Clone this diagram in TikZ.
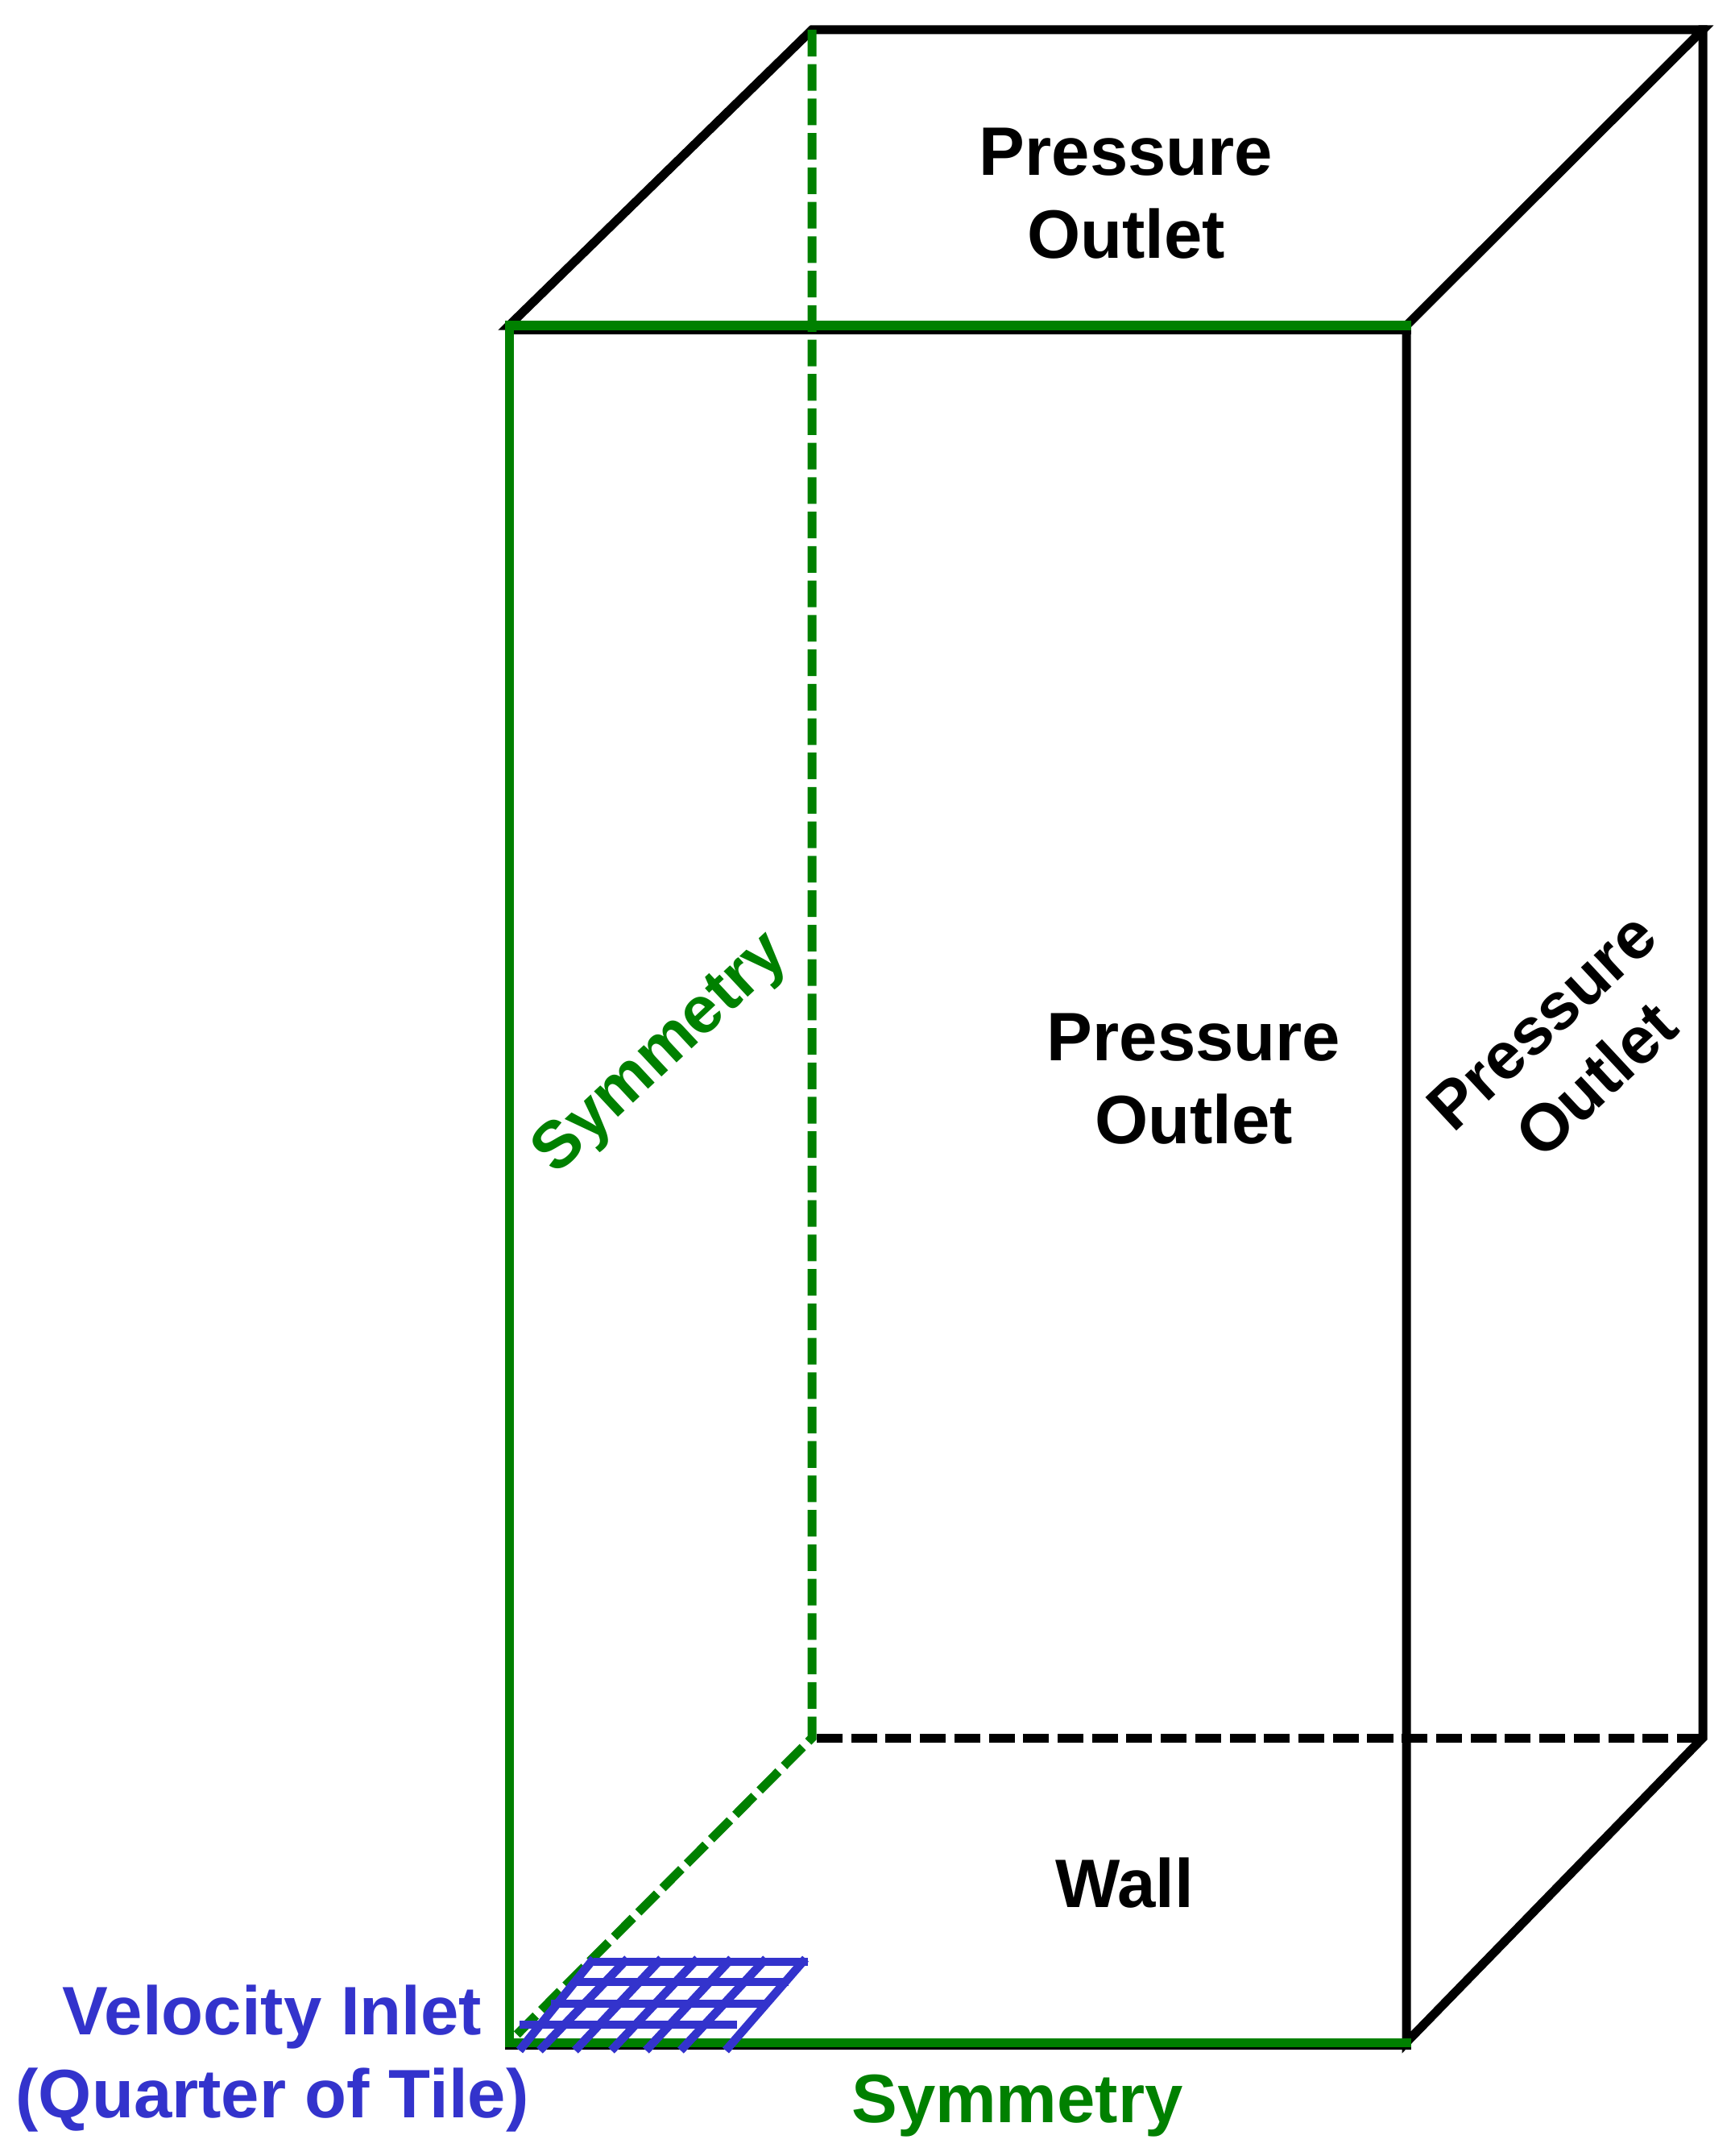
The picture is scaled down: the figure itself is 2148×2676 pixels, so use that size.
\documentclass[tikz,border=0pt]{standalone}
\usepackage{fontspec}
\setsansfont{Liberation Sans}
\usetikzlibrary{calc}

\definecolor{symgreen}{HTML}{008000}
\definecolor{inletblue}{HTML}{3333CC}

\begin{document}
\begin{tikzpicture}[
  x=0.01cm, y=-0.01cm,
  font=\sffamily\bfseries\fontsize{24.2}{29.3}\selectfont,
  edge/.style={draw=black, line width=0.11cm, line cap=rect},
  hidden/.style={draw=black, line width=0.11cm, dash pattern=on 0.32cm off 0.107cm},
  sym/.style={draw=symgreen, line width=0.11cm, line cap=rect},
  symhidden/.style={draw=symgreen, line width=0.11cm, dash pattern=on 0.33cm off 0.097cm},
  mesh/.style={draw=inletblue, line width=0.105cm},
  lbl/.style={align=center, inner sep=0pt},
  tilted/.style={lbl, rotate=43, scale=0.965}
]
\useasboundingbox (0,0) rectangle (2148,2676);

% corners
\coordinate (ftl) at (632,404);
\coordinate (ftr) at (1746,404);
\coordinate (fbl) at (632,2535);
\coordinate (fbr) at (1746,2535);
\coordinate (btl) at (1008,37);
\coordinate (btr) at (2114,37);
\coordinate (bbl) at (1008,2157);
\coordinate (bbr) at (2114,2157);

% black edges
\draw[edge] (ftl) -- (btl) -- (btr) -- (ftr) -- cycle;
\draw[edge] (btr) -- (bbr) -- (fbr) -- (ftr);
\draw[edge] ($(ftl)+(0,5)$) -- ($(ftr)+(0,5)$);
\draw[edge] ($(fbl)+(0,3)$) -- ($(fbr)+(0,3)$);
\draw[hidden] (bbr) -- (bbl);

% green edges
\draw[symhidden] (btl) -- (bbl) -- (fbl);
\draw[sym] (fbr) -- (fbl) -- (ftl) -- (ftr);

% inlet mesh
\foreach \xa/\xb in {737/645,779/670,821/714,866/759,908/802,951/845,1000/901}
  \draw[mesh] (\xa,2431) -- (\xb,2545);
\foreach \xa/\xb/\ya in {737/1003/2435,712/979/2460,684/951/2487,645/915/2513}
  \draw[mesh] (\xa,\ya) -- (\xb,\ya);

% labels
\node[lbl] (topout) at (1398,240) {Pressure\\Outlet};
\node[lbl] (frontout) at (1482,1339) {Pressure\\Outlet};
\node[tilted] (sideout) at (1948,1304) {Pressure\\Outlet};
\node[lbl] (wall) at (1396,2337) {Wall};
\node[tilted, text=symgreen] (symback) at (822,1309) {Symmetry};
\node[lbl, text=symgreen] (symfront) at (1263,2614) {Symmetry};
\node[lbl, text=inletblue] (inlet) at (338,2555) {Velocity Inlet\\(Quarter of Tile)};

\end{tikzpicture}
\end{document}
